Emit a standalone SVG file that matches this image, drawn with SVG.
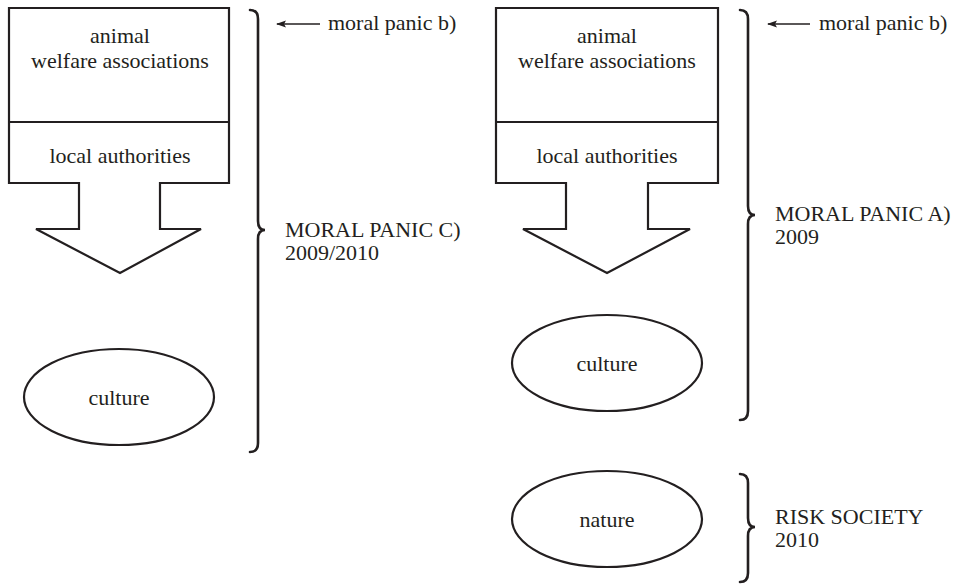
<svg xmlns="http://www.w3.org/2000/svg" width="964" height="588" viewBox="0 0 964 588" font-family="'Liberation Serif', 'DejaVu Serif', serif">
<defs>
<style>
.s{fill:#fff;stroke:#231f20;stroke-width:2.2;stroke-linejoin:miter}
.b{fill:none;stroke:#231f20;stroke-width:2.6;stroke-linecap:round}
text{font-family:'Liberation Serif','DejaVu Serif',serif;font-size:22px;fill:#231f20}
.m{text-anchor:middle}
.a{fill:none;stroke:#231f20;stroke-width:1.5}
</style>
<marker id="ah" markerWidth="10" markerHeight="8" refX="9" refY="4" orient="auto" markerUnits="userSpaceOnUse">
<path d="M10,4 L0,0.5 L2,4 L0,7.5 Z" fill="#231f20"/>
</marker>
</defs>
<rect width="964" height="588" fill="#fff"/>

<g id="left-box">
<path class="s" d="M9,8 H229 V183 H160 V229 H201 L120,273 L36,229 H79 V183 H9 Z"/>
<line class="s" x1="9" y1="122" x2="229" y2="122"/>
<text class="m" x="120" y="43">animal</text>
<text class="m" x="120" y="68">welfare associations</text>
<text class="m" x="120" y="163">local authorities</text>
</g>
<g id="left-culture">
<ellipse class="s" cx="119" cy="397" rx="95" ry="48"/>
<text class="m" x="119" y="405">culture</text>
</g>
<g id="left-label-b">
<text x="328" y="30">moral panic b)</text>
</g>
<g id="left-label-c">
<text x="285" y="237">MORAL PANIC C)</text>
<text x="285" y="260">2009/2010</text>
</g>

<g id="right-box">
<path class="s" d="M496,8 H718 V183 H648 V229 H690 L607,273 L523,229 H566 V183 H496 Z"/>
<line class="s" x1="496" y1="122" x2="718" y2="122"/>
<text class="m" x="607" y="43">animal</text>
<text class="m" x="607" y="68">welfare associations</text>
<text class="m" x="607" y="163">local authorities</text>
</g>
<g id="right-culture">
<ellipse class="s" cx="607" cy="363" rx="95" ry="48"/>
<text class="m" x="607" y="371">culture</text>
</g>
<g id="right-nature">
<ellipse class="s" cx="607" cy="519" rx="95" ry="48"/>
<text class="m" x="607" y="527">nature</text>
</g>
<g id="right-label-b">
<text x="819" y="30">moral panic b)</text>
</g>
<g id="right-label-a">
<text x="775" y="221">MORAL PANIC A)</text>
<text x="775" y="244">2009</text>
</g>
<g id="right-label-risk">
<text x="775" y="524">RISK SOCIETY</text>
<text x="775" y="547">2010</text>
</g>

<g id="connectors">
<path class="b" d="M250,10 Q258,10 258,19 V221 Q258,230 265,230 Q258,230 258,239 V443 Q258,452 250,452"/>
<path class="b" d="M740,10 Q748,10 748,19 V206 Q748,215 755,215 Q748,215 748,224 V411 Q748,420 740,420"/>
<path class="b" d="M740,474 Q748,474 748,483 V518 Q748,527 755,527 Q748,527 748,536 V573 Q748,582 740,582"/>
<line class="a" x1="320" y1="24" x2="277" y2="24" marker-end="url(#ah)"/>
<line class="a" x1="810" y1="24" x2="768" y2="24" marker-end="url(#ah)"/>
</g>
</svg>
